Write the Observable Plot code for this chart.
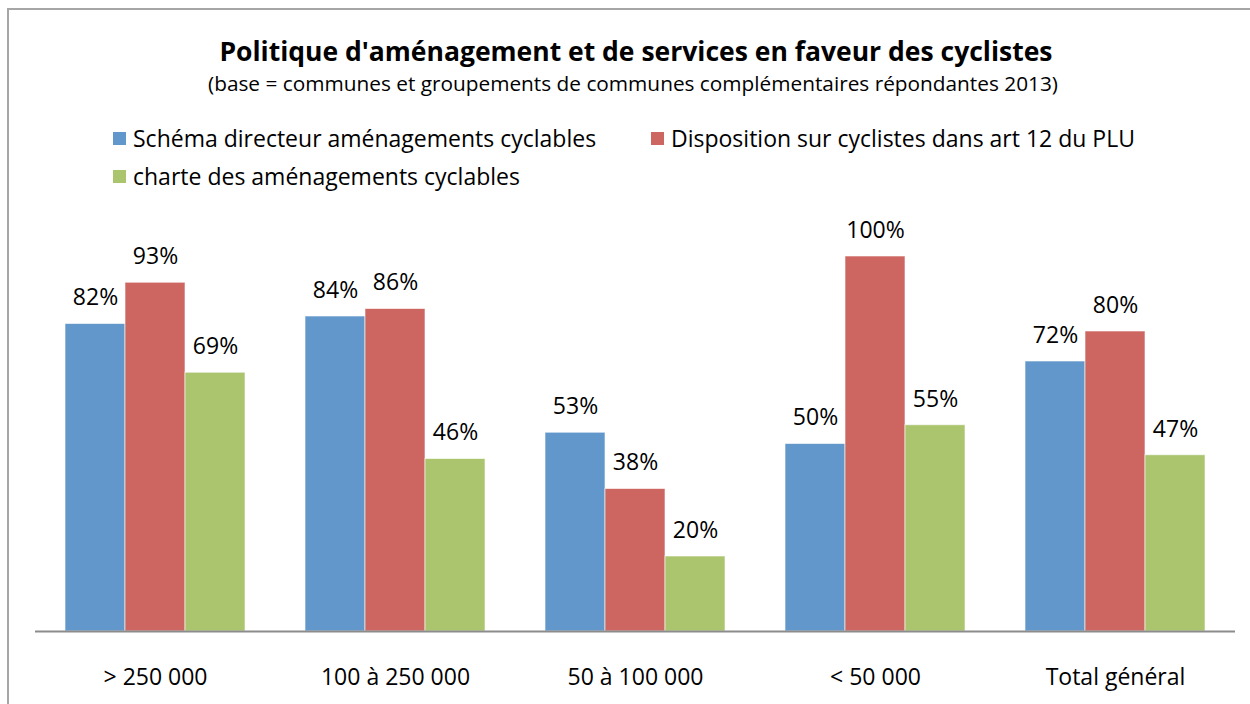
<!DOCTYPE html>
<html><head><meta charset="utf-8">
<script src="https://cdn.jsdelivr.net/npm/d3@7"></script>
<script src="https://cdn.jsdelivr.net/npm/@observablehq/plot@0.6"></script>
<style>
body{margin:0;background:#fff;font-family:"Open Sans",sans-serif;color:#000;}
#wrap{position:relative;width:1250px;height:704px;overflow:hidden;}
#frame{position:absolute;left:7px;top:8px;width:1260px;height:720px;border:2px solid #a6a6a6;box-sizing:border-box;}
#title{position:absolute;left:0;width:1272px;top:38px;text-align:center;font-weight:bold;font-size:26.5px;line-height:1;}
#sub{position:absolute;left:0;width:1266px;top:73px;text-align:center;font-size:20.8px;line-height:1;}
.leg{position:absolute;font-size:23px;white-space:nowrap;line-height:1;}
.leg span.sw{display:inline-block;width:13px;height:13px;margin-right:7px;vertical-align:middle;position:relative;top:-2px;}
#chart{position:absolute;left:0;top:200px;}
</style></head>
<body><div id="wrap"><div id="frame"></div>
<div id="title"></div><div id="sub"></div><div id="legend"></div><div id="chart"></div></div>
<script>
const categories = ["> 250 000","100 à 250 000","50 à 100 000","< 50 000","Total général"];
const series = ["Schéma directeur aménagements cyclables","Disposition sur cyclistes dans art 12 du PLU","charte des aménagements cyclables"];
const schema = [82,84,53,50,72];
const disposition = [93,86,38,100,80];
const charte = [69,46,20,55,47];
const colors = ["#6197cb","#cd6560","#abc46e"];
const titleText = "Politique d'aménagement et de services en faveur des cyclistes";
const subText = "(base = communes et groupements de communes complémentaires répondantes 2013)";

document.getElementById("title").textContent = titleText;
document.getElementById("sub").textContent = subText;

const legPos = [[113,127],[651,127],[113,165]];
const legend = document.getElementById("legend");
series.forEach((s,i)=>{
  const d = document.createElement("div");
  d.className="leg"; d.style.left=legPos[i][0]+"px"; d.style.top=legPos[i][1]+"px";
  d.innerHTML = `<span class="sw" style="background:${colors[i]}"></span>`;
  d.appendChild(document.createTextNode(s));
  legend.appendChild(d);
});

const vals = [schema, disposition, charte];
const data = [];
categories.forEach((c,ci)=>series.forEach((s,si)=>data.push({cat:c, ser:s, v:vals[si][ci]})));

const plot = Plot.plot({
  width:1250, height:504,
  marginLeft:35, marginRight:15, marginTop:56, marginBottom:73,
  style:{fontFamily:"Open Sans", fontSize:"23px", color:"#000", background:"transparent", overflow:"visible"},
  fx:{domain:categories, padding:0, label:null, axis:"bottom", tickSize:0, tickPadding:37},
  x:{domain:series, axis:null, paddingInner:0, paddingOuter:0.5},
  y:{domain:[0,100], axis:null},
  color:{domain:series, range:colors},
  marks:[
    Plot.barY(data,{fx:"cat", x:"ser", y:"v", fill:"ser", stroke:"#fff", strokeWidth:1, strokeOpacity:0.6}),
    Plot.text(data,{fx:"cat", x:"ser", y:"v", text:d=>d.v+"%", dy:-26, fontSize:23, fill:"#000"}),
    Plot.ruleY([0],{stroke:"#8c8c8c", strokeWidth:2})
  ]
});
document.getElementById("chart").appendChild(plot);
</script></body></html>
